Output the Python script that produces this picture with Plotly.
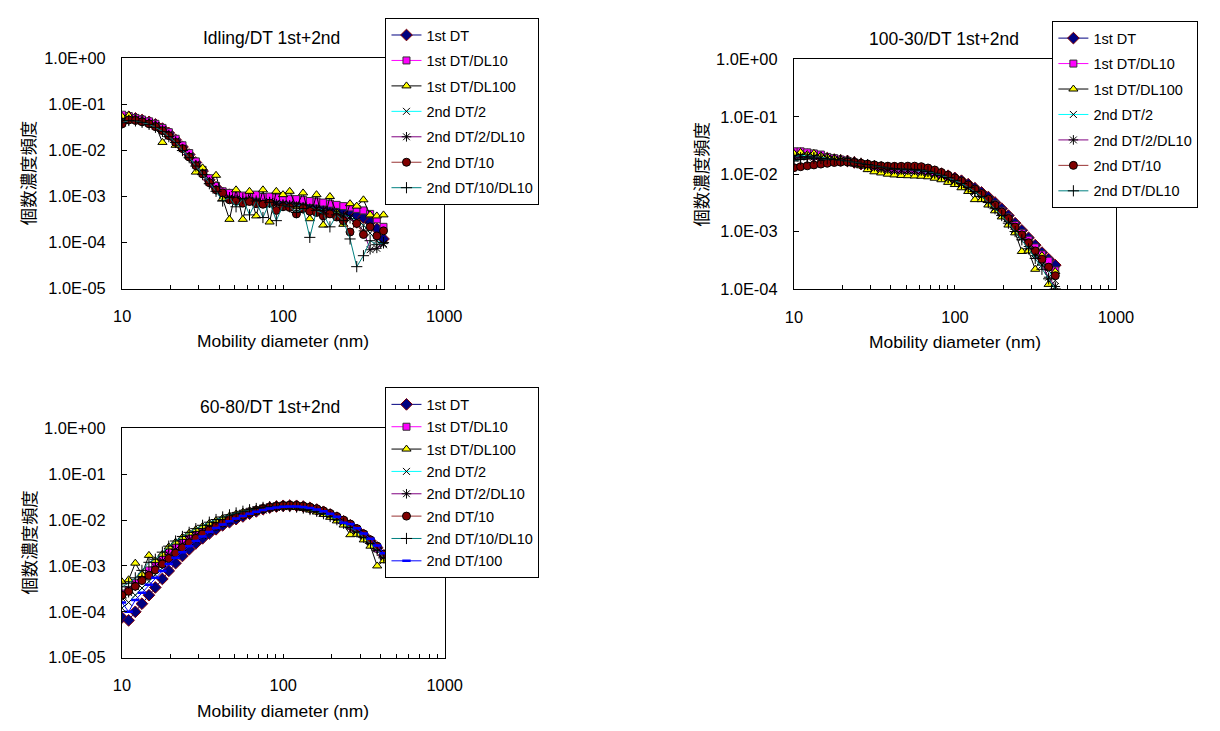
import plotly.graph_objects as go

# ---------------- data ----------------
diameter_nm = [10.0, 11.0, 12.1, 13.3, 14.7, 16.1, 17.8, 19.5, 21.5, 23.7,
               26.1, 28.7, 31.6, 34.8, 38.3, 42.1, 46.4, 51.0, 56.2, 61.8,
               68.0, 74.9, 82.4, 90.7, 99.8, 109.8, 120.9, 133.0, 146.4, 161.2,
               177.4, 195.2, 214.9, 236.5, 260.3, 286.5, 315.3, 347.0, 381.9, 420.0]

names_idling = ["1st DT", "1st DT/DL10", "1st DT/DL100", "2nd DT/2",
                "2nd DT/2/DL10", "2nd DT/10", "2nd DT/10/DL10"]
names_100_30 = ["1st DT", "1st DT/DL10", "1st DT/DL100", "2nd DT/2",
                "2nd DT/2/DL10", "2nd DT/10", "2nd DT/DL10"]
names_60_80 = ["1st DT", "1st DT/DL10", "1st DT/DL100", "2nd DT/2",
               "2nd DT/2/DL10", "2nd DT/10", "2nd DT/10/DL10", "2nd DT/100"]

# Idling/DT 1st+2nd
idling_1st_dt = [0.052, 0.054, 0.050, 0.046, 0.042, 0.037, 0.030, 0.024, 0.017, 0.012,
                 0.0082, 0.0055, 0.0036, 0.0023, 0.0016, 0.0012, 0.0011, 0.00098, 0.00092, 0.00090,
                 0.00088, 0.00085, 0.00086, 0.00082, 0.00080, 0.00078, 0.00076, 0.00072, 0.00068, 0.00065,
                 0.00060, 0.00056, 0.00052, 0.00048, 0.00044, 0.00040, 0.00035, 0.00028, 0.00020, 0.00012]
idling_1st_dt_dl10 = [0.060, 0.056, 0.051, 0.047, 0.043, 0.038, 0.031, 0.025, 0.018, 0.013,
                      0.0088, 0.0058, 0.0038, 0.0025, 0.0017, 0.0013, 0.0012, 0.0011, 0.00105, 0.0010,
                      0.0011, 0.00098, 0.0010, 0.00095, 0.00092, 0.0009, 0.00088, 0.00085, 0.0008, 0.00078,
                      0.00074, 0.0007, 0.00066, 0.00062, 0.00058, 0.00054, 0.0005, 0.00042, 0.00032, 0.00022]
idling_1st_dt_dl100 = [0.055, 0.058, 0.049, 0.045, 0.040, 0.036, 0.015, 0.022, 0.013, 0.011,
                       0.0075, 0.0034, 0.0042, 0.0021, 0.0029, 0.0009, 0.00032, 0.0014, 0.00032, 0.0013,
                       0.00038, 0.0014, 0.00028, 0.0013, 0.0011, 0.0013, 0.0006, 0.0012, 0.00033, 0.0011,
                       0.00024, 0.0010, 0.00045, 0.00025, 0.00070, 0.00062, 0.00085, 0.00040, 0.00038, 0.00040]
idling_2nd_dt2 = [0.045, 0.050, 0.048, 0.044, 0.040, 0.035, 0.029, 0.023, 0.016, 0.011,
                  0.0076, 0.0050, 0.0033, 0.0021, 0.0015, 0.0011, 0.00095, 0.00088, 0.00085, 0.00080,
                  0.00078, 0.00075, 0.00078, 0.00072, 0.00070, 0.00068, 0.00066, 0.00062, 0.00058, 0.00055,
                  0.00052, 0.00048, 0.00045, 0.00040, 0.00036, 0.00030, 0.00024, 0.00016, 0.00011, 0.000090]
idling_2nd_dt2_dl10 = [0.040, 0.047, 0.046, 0.043, 0.039, 0.034, 0.028, 0.022, 0.016, 0.011,
                       0.0074, 0.0049, 0.0032, 0.0021, 0.0014, 0.0011, 0.00090, 0.00085, 0.00080, 0.00082,
                       0.00075, 0.00072, 0.00076, 0.00070, 0.00068, 0.00066, 0.00062, 0.00060, 0.00056, 0.00052,
                       0.00050, 0.00046, 0.00042, 0.00038, 0.00033, 0.00026, 0.00018, 0.000070, 0.000075, 0.000095]
idling_2nd_dt10 = [0.038, 0.046, 0.045, 0.042, 0.038, 0.033, 0.027, 0.021, 0.015, 0.011,
                   0.0072, 0.0047, 0.0031, 0.0020, 0.0014, 0.0012, 0.00085, 0.00080, 0.00072, 0.00078,
                   0.00070, 0.00068, 0.00072, 0.00050, 0.00060, 0.00058, 0.00042, 0.00055, 0.00048, 0.00045,
                   0.00038, 0.00042, 0.00036, 0.00030, 0.00017, 0.00026, 0.00015, 0.00022, 0.00014, 0.00018]
idling_2nd_dt10_dl10 = [0.040, 0.045, 0.044, 0.041, 0.037, 0.032, 0.026, 0.020, 0.015, 0.010,
                        0.0070, 0.0046, 0.0030, 0.0019, 0.0013, 0.00080, 0.00095, 0.00060, 0.00090, 0.00040,
                        0.00080, 0.00035, 0.00075, 0.00030, 0.00065, 0.00060, 0.00045, 0.00055, 0.00013, 0.00050,
                        0.00042, 0.00022, 0.00040, 0.00030, 0.00012, 0.000030, 0.000052, 0.00011, 0.000090, 0.00010]

# 100-30/DT 1st+2nd
p10030_1st_dt = [0.022, 0.023, 0.022, 0.021, 0.020, 0.019, 0.018, 0.0175, 0.017, 0.016,
                 0.015, 0.014, 0.0135, 0.013, 0.0128, 0.0126, 0.0125, 0.0125, 0.0124, 0.0122,
                 0.0118, 0.0110, 0.0102, 0.0094, 0.0086, 0.0077, 0.0067, 0.0057, 0.0048, 0.0040,
                 0.0032, 0.0025, 0.0019, 0.0014, 0.00105, 0.00078, 0.00058, 0.00043, 0.00033, 0.00026]
p10030_1st_dt_dl10 = [0.025, 0.025, 0.024, 0.023, 0.022, 0.020, 0.019, 0.018, 0.017, 0.016,
                      0.015, 0.014, 0.013, 0.0125, 0.012, 0.012, 0.0118, 0.0118, 0.0117, 0.0115,
                      0.011, 0.0104, 0.0097, 0.0089, 0.0081, 0.0072, 0.0063, 0.0054, 0.0045, 0.0037,
                      0.0030, 0.0023, 0.0018, 0.0013, 0.00095, 0.00072, 0.00053, 0.0004, 0.00031, 0.00021]
p10030_1st_dt_dl100 = [0.023, 0.024, 0.022, 0.023, 0.021, 0.020, 0.019, 0.018, 0.017, 0.015,
                       0.014, 0.012, 0.011, 0.0105, 0.010, 0.0097, 0.0095, 0.0094, 0.0093, 0.0092,
                       0.009, 0.0085, 0.008, 0.0072, 0.0066, 0.0058, 0.0050, 0.0036, 0.0036, 0.0029,
                       0.0023, 0.0018, 0.0013, 0.00095, 0.00045, 0.00046, 0.00022, 0.00038, 0.00012, 0.0002]
p10030_2nd_dt2 = [0.020, 0.021, 0.021, 0.020, 0.0195, 0.019, 0.018, 0.0175, 0.017, 0.016,
                  0.015, 0.0142, 0.0135, 0.0128, 0.0123, 0.012, 0.0118, 0.0117, 0.0116, 0.0113,
                  0.0108, 0.0101, 0.0093, 0.0085, 0.0077, 0.0068, 0.0058, 0.0049, 0.0041, 0.0033,
                  0.0026, 0.002, 0.0015, 0.0011, 0.0008, 0.00058, 0.00041, 0.0003, 0.00021, 0.00014]
p10030_2nd_dt2_dl10 = [0.019, 0.02, 0.02, 0.02, 0.019, 0.0185, 0.018, 0.0175, 0.0168, 0.016,
                       0.0152, 0.0145, 0.0137, 0.013, 0.0125, 0.0122, 0.012, 0.0119, 0.0118, 0.0115,
                       0.011, 0.0103, 0.0095, 0.0086, 0.0078, 0.0068, 0.0059, 0.005, 0.0041, 0.0033,
                       0.0026, 0.002, 0.0015, 0.0011, 0.00078, 0.00055, 0.00038, 0.00026, 0.00016, 0.00011]
p10030_2nd_dt10 = [0.013, 0.0135, 0.014, 0.0145, 0.015, 0.0155, 0.016, 0.0162, 0.0163, 0.016,
                   0.0155, 0.015, 0.0145, 0.014, 0.0138, 0.0137, 0.0137, 0.0138, 0.0138, 0.0135,
                   0.0128, 0.0118, 0.0107, 0.0096, 0.0086, 0.0076, 0.0065, 0.0055, 0.0046, 0.0037,
                   0.0029, 0.0022, 0.0017, 0.0012, 0.00088, 0.00064, 0.00046, 0.00033, 0.00024, 0.00017]
p10030_2nd_dt_dl10 = [0.017, 0.018, 0.019, 0.019, 0.0188, 0.0185, 0.018, 0.0176, 0.017, 0.0163,
                      0.0155, 0.0147, 0.014, 0.0133, 0.0128, 0.0125, 0.0123, 0.0122, 0.0121, 0.0118,
                      0.0112, 0.0104, 0.0096, 0.0087, 0.0078, 0.0069, 0.0059, 0.005, 0.0041, 0.0032,
                      0.0025, 0.0019, 0.0014, 0.001, 0.00072, 0.0005, 0.00034, 0.00022, 0.00015, 0.0001]

# 60-80/DT 1st+2nd
p6080_1st_dt = [7.5e-5, 6.5e-5, 1.0e-4, 1.5e-4, 2.3e-4, 3.4e-4, 5.2e-4, 7.8e-4, 1.15e-3, 1.65e-3,
                2.3e-3, 3.1e-3, 4.0e-3, 5.1e-3, 6.3e-3, 7.7e-3, 9.0e-3, 0.0105, 0.012, 0.0138,
                0.0155, 0.0172, 0.0187, 0.0198, 0.0205, 0.0208, 0.0205, 0.0198, 0.0186, 0.017,
                0.0152, 0.0133, 0.0113, 0.0094, 0.0077, 0.0061, 0.0047, 0.0035, 0.0025, 0.0017]
p6080_1st_dt_dl10 = [2.5e-4, 3.0e-4, 4.2e-4, 5.8e-4, 8.0e-4, 1.1e-3, 1.5e-3, 2.0e-3, 2.6e-3, 3.3e-3,
                     4.1e-3, 5.0e-3, 6.0e-3, 7.1e-3, 8.3e-3, 9.6e-3, 0.011, 0.0124, 0.0138, 0.0152,
                     0.0166, 0.018, 0.0192, 0.0201, 0.0206, 0.0207, 0.0203, 0.0195, 0.0183, 0.0168,
                     0.015, 0.0131, 0.0112, 0.0093, 0.0076, 0.006, 0.0046, 0.0034, 0.0024, 0.0016]
p6080_1st_dt_dl100 = [4.5e-4, 5.0e-4, 1.15e-3, 6.5e-4, 1.7e-3, 1.3e-3, 1.8e-3, 2.6e-3, 3.3e-3, 4.2e-3,
                      5.2e-3, 6.2e-3, 7.3e-3, 8.5e-3, 0.0098, 0.011, 0.0123, 0.0136, 0.0149, 0.016,
                      0.0172, 0.0183, 0.0192, 0.0197, 0.0198, 0.0195, 0.0189, 0.018, 0.0166, 0.015,
                      0.0133, 0.0115, 0.0096, 0.0078, 0.0048, 0.0049, 0.0037, 0.0027, 0.0010, 0.0013]
p6080_2nd_dt2 = [1.2e-4, 1.6e-4, 2.3e-4, 3.3e-4, 4.6e-4, 6.4e-4, 9.0e-4, 1.25e-3, 1.7e-3, 2.25e-3,
                 2.9e-3, 3.7e-3, 4.6e-3, 5.7e-3, 6.9e-3, 8.2e-3, 9.6e-3, 0.011, 0.0124, 0.0138,
                 0.0152, 0.0166, 0.0179, 0.019, 0.0197, 0.0201, 0.02, 0.0194, 0.0183, 0.0169,
                 0.0152, 0.0133, 0.0114, 0.0095, 0.0077, 0.0061, 0.0047, 0.0035, 0.0025, 0.0017]
p6080_2nd_dt2_dl10 = [2.0e-4, 2.6e-4, 3.6e-4, 5.0e-4, 7.0e-4, 9.5e-4, 1.3e-3, 1.75e-3, 2.3e-3, 3.0e-3,
                      3.8e-3, 4.7e-3, 5.8e-3, 7.0e-3, 8.3e-3, 9.6e-3, 0.011, 0.0124, 0.0138, 0.0151,
                      0.0164, 0.0176, 0.0187, 0.0195, 0.02, 0.0201, 0.0197, 0.019, 0.0178, 0.0163,
                      0.0146, 0.0128, 0.011, 0.0091, 0.0074, 0.0058, 0.0045, 0.0034, 0.0024, 0.0016]
p6080_2nd_dt10 = [2.3e-4, 2.8e-4, 3.6e-4, 4.8e-4, 6.2e-4, 8.2e-4, 1.1e-3, 1.45e-3, 1.9e-3, 2.5e-3,
                  3.2e-3, 4.0e-3, 5.0e-3, 6.1e-3, 7.3e-3, 8.6e-3, 0.0105, 0.0115, 0.0128, 0.0145,
                  0.016, 0.0176, 0.019, 0.02, 0.0208, 0.0212, 0.021, 0.0203, 0.0192, 0.0177,
                  0.0159, 0.014, 0.012, 0.01, 0.0082, 0.0065, 0.005, 0.0037, 0.0027, 0.0018]
p6080_2nd_dt10_dl10 = [3.5e-4, 4.2e-4, 5.5e-4, 8.0e-4, 1.2e-3, 1.4e-3, 2.0e-3, 2.7e-3, 3.5e-3, 4.4e-3,
                       5.4e-3, 6.5e-3, 7.7e-3, 9.0e-3, 0.0103, 0.0117, 0.013, 0.0143, 0.0156, 0.0168,
                       0.0179, 0.0189, 0.0196, 0.02, 0.0201, 0.0198, 0.0192, 0.0183, 0.017, 0.0155,
                       0.0138, 0.012, 0.0102, 0.0085, 0.0069, 0.0055, 0.0042, 0.0031, 0.0022, 0.0015]
p6080_2nd_dt100 = [1.6e-4, 1.0e-4, 1.8e-4, 2.6e-4, 3.9e-4, 5.5e-4, 7.8e-4, 1.1e-3, 1.5e-3, 2.0e-3,
                   2.7e-3, 3.5e-3, 4.4e-3, 5.5e-3, 6.7e-3, 8.0e-3, 9.4e-3, 0.0108, 0.0123, 0.0138,
                   0.0152, 0.0166, 0.0178, 0.0188, 0.0195, 0.0198, 0.0197, 0.0192, 0.0183, 0.017,
                   0.0155, 0.0138, 0.0118, 0.0088, 0.0082, 0.0066, 0.0051, 0.0039, 0.0028, 0.0019]

panel_titles = ["Idling/DT 1st+2nd", "100-30/DT 1st+2nd", "60-80/DT 1st+2nd"]
x_title = "Mobility diameter (nm)"
y_title = "個数濃度頻度"
x_tick_vals = [10, 100, 1000]
x_tick_text = ["10", "100", "1000"]
x_minor_vals = [20, 30, 40, 50, 60, 70, 80, 90, 200, 300, 400, 500, 600, 700, 800, 900]
y_tick_vals = [1e-5, 1e-4, 1e-3, 1e-2, 1e-1, 1]
y_tick_text = ["1.0E-05", "1.0E-04", "1.0E-03", "1.0E-02", "1.0E-01", "1.0E+00"]

# ---------------- styles ----------------
styles = [
    dict(line="#000080", symbol="diamond", size=9, fill="#000080", edge="#800000", ew=1),
    dict(line="#FF00FF", symbol="square", size=7, fill="#FF00FF", edge="#333333", ew=1),
    dict(line="#000000", symbol="triangle-up", size=8, fill="#FFFF00", edge="#000000", ew=1),
    dict(line="#00FFFF", symbol="x-thin-open", size=7, fill="#000000", edge="#000000", ew=1),
    dict(line="#800080", symbol="asterisk-open", size=8, fill="#000000", edge="#000000", ew=1),
    dict(line="#993333", symbol="circle", size=8, fill="#800000", edge="#000000", ew=1),
    dict(line="#008080", symbol="cross-thin-open", size=8, fill="#000000", edge="#000000", ew=1),
    dict(line="#0000FF", symbol="line-ew-open", size=6, fill="#0000FF", edge="#0000FF", ew=2.5),
]

W, H = 1220, 731
FONT = "Liberation Sans, Arial, sans-serif"
CJK = "Noto Sans CJK JP, sans-serif"

panels = [
    dict(names=names_idling,
         ys=[idling_1st_dt, idling_1st_dt_dl10, idling_1st_dt_dl100, idling_2nd_dt2,
             idling_2nd_dt2_dl10, idling_2nd_dt10, idling_2nd_dt10_dl10],
         box=(115.7, 445.0, 50.7, 286.7), yrange=(-5, 0),
         legend=(385, 9.3), gap=3.6, title=(268, 30), xt=340, yt=19),
    dict(names=names_100_30,
         ys=[p10030_1st_dt, p10030_1st_dt_dl10, p10030_1st_dt_dl100, p10030_2nd_dt2,
             p10030_2nd_dt2_dl10, p10030_2nd_dt10, p10030_2nd_dt_dl10],
         box=(802.7, 1132.0, 51.7, 287.0), yrange=(-4, 0),
         legend=(1067, 12.5), gap=3.6, title=(956, 30.5), xt=341.5, yt=707),
    dict(names=names_60_80,
         ys=[p6080_1st_dt, p6080_1st_dt_dl10, p6080_1st_dt_dl100, p6080_2nd_dt2,
             p6080_2nd_dt2_dl10, p6080_2nd_dt10, p6080_2nd_dt10_dl10, p6080_2nd_dt100],
         box=(115.5, 445.5, 430.0, 665.0), yrange=(-5, 0),
         legend=(385, 388), gap=0.5, title=(267, 408), xt=720, yt=19),
]

fig = go.Figure()
layout = dict(width=W, height=H, margin=dict(l=0, r=0, t=0, b=0, pad=0),
              paper_bgcolor="white", plot_bgcolor="white", showlegend=True,
              font=dict(family=FONT, color="black"))
annotations = []

for i, p in enumerate(panels):
    n = i + 1
    sfx = "" if n == 1 else str(n)
    lname = "legend" if n == 1 else "legend%d" % n
    x0, x1, y0, y1 = p["box"]
    for j, (name, yv) in enumerate(zip(p["names"], p["ys"])):
        st = styles[j]
        fig.add_trace(go.Scatter(
            x=diameter_nm, y=yv, name=name, mode="lines+markers",
            xaxis="x" + sfx, yaxis="y" + sfx, legend=lname,
            legendgroup="p%d_s%d" % (n, j),
            line=dict(color=st["line"], width=1),
            marker=dict(symbol=st["symbol"], size=st["size"], color=st["fill"],
                        line=dict(color=st["edge"], width=st["ew"])),
        ))
    layout["xaxis" + sfx] = dict(
        type="log", range=[1, 3], domain=[x0 / W, x1 / W],
        anchor="y" + sfx, showline=True, linecolor="black", linewidth=1.2, mirror=True,
        ticks="inside", ticklen=4, tickcolor="black", tickwidth=1,
        tickmode="array", tickvals=x_tick_vals, ticktext=x_tick_text,
        minor=dict(tickmode="array", tickvals=x_minor_vals, ticks="inside",
                   ticklen=4, tickcolor="black", tickwidth=1, showgrid=False),
        showgrid=False, zeroline=False, ticklabelstandoff=13,
        tickfont=dict(family=FONT, size=16.4, color="black"),
    )
    layout["yaxis" + sfx] = dict(
        type="log", range=list(p["yrange"]), domain=[1 - y1 / H, 1 - y0 / H],
        anchor="x" + sfx, showline=True, linecolor="black", linewidth=1.2, mirror=True,
        ticks="inside", ticklen=5, tickcolor="black", tickwidth=1,
        tickmode="array", tickvals=y_tick_vals, ticktext=y_tick_text,
        showgrid=False, zeroline=False, ticklabelstandoff=12,
        tickfont=dict(family=FONT, size=16.4, color="black"),
    )
    lx, ly = p["legend"]
    layout[lname] = dict(
        x=lx / W, y=1 - ly / H, xanchor="left", yanchor="top",
        bgcolor="white", bordercolor="black", borderwidth=1,
        font=dict(family=FONT, size=14.5, color="black"),
        tracegroupgap=p["gap"],
    )
    tx, ty = p["title"]
    annotations.append(dict(text=panel_titles[i], x=tx / W, y=1 - ty / H, xref="paper", yref="paper",
                            xanchor="center", yanchor="middle", showarrow=False,
                            font=dict(family=FONT, size=17.5, color="black")))
    annotations.append(dict(text=x_title, x=(x0 + x1) / 2 / W, y=1 - p["xt"] / H,
                            xref="paper", yref="paper", xanchor="center", yanchor="middle",
                            showarrow=False, font=dict(family=FONT, size=17.4, color="black")))
    annotations.append(dict(text=y_title, x=p["yt"] / W, y=1 - (y0 + y1) / 2 / H,
                            xref="paper", yref="paper", xanchor="center", yanchor="middle",
                            textangle=-90, showarrow=False,
                            font=dict(family=CJK, size=17.4, color="black")))

layout["annotations"] = annotations
fig.update_layout(**layout)
fig.write_html("out.html")
